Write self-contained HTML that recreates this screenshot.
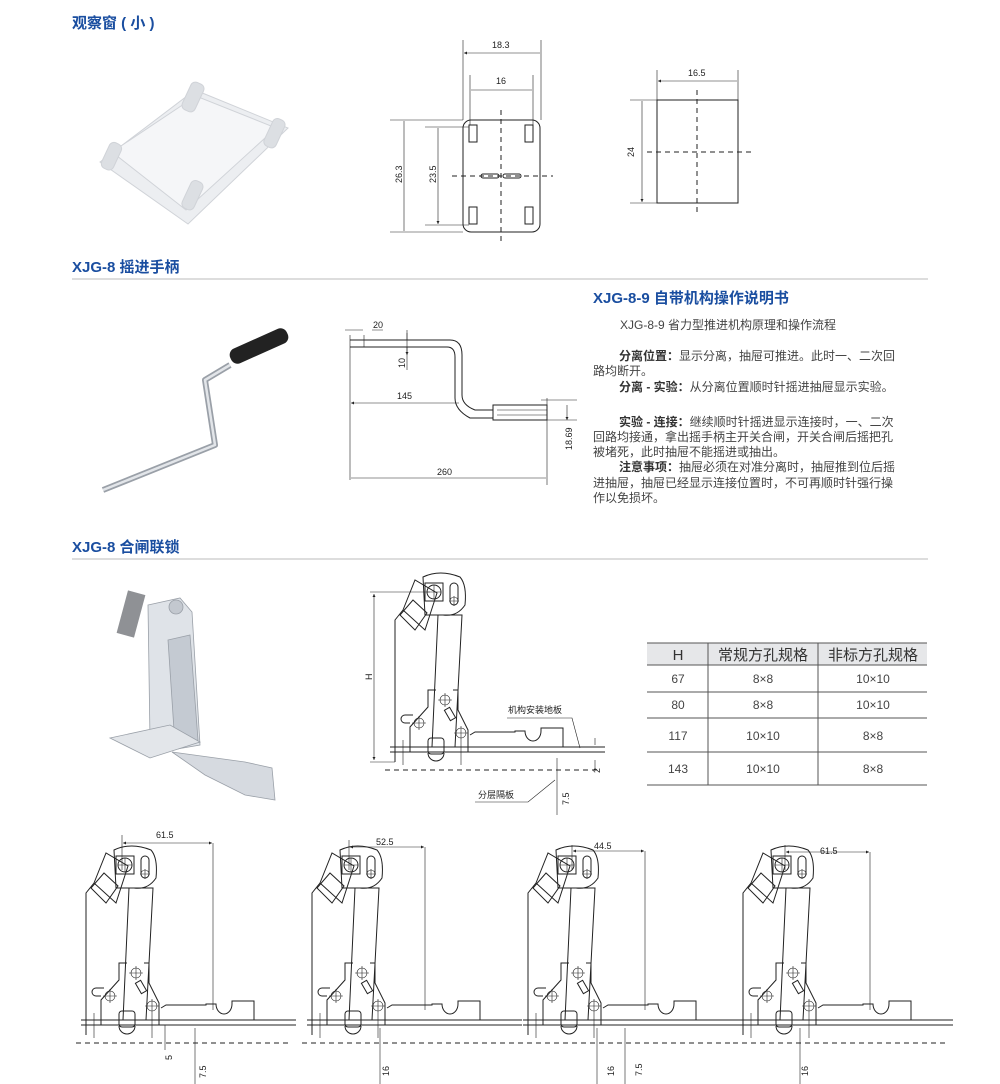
<!DOCTYPE html>
<html><head><meta charset="utf-8"><style>
body{margin:0;background:#fff;}
svg{display:block;font-family:"Liberation Sans","Noto Sans CJK SC",sans-serif;}
.h{font-size:15px;font-weight:bold;fill:#1a4ea0;}
.d{font-size:9px;fill:#222;}
.t{font-size:12px;fill:#444;}
.b{font-weight:bold;fill:#333;}
.ln{stroke:#222;stroke-width:1;fill:none;}
.th{stroke:#222;stroke-width:.6;fill:none;}
.da{stroke:#222;stroke-width:1;stroke-dasharray:5 4;fill:none;}
</style></head><body>
<svg width="1000" height="1084" viewBox="0 0 1000 1084">
<defs>
<marker id="a" viewBox="0 0 6 6" refX="6" refY="3" markerWidth="5" markerHeight="5" orient="auto-start-reverse"><path d="M0,0L6,3L0,6z" fill="#222"/></marker>
<g id="mech">
 <path class="ln" d="M0,187V45L8,35"/>
 <path class="ln" d="M8,35L20,5L42,18L30,55Z" fill="#fff"/>
 <path class="ln" d="M5,40L18,25L32,38L20,55Z" fill="#fff"/>
 <path class="ln" d="M28,2Q45,-6 65,2Q72,10 70,30Q62,42 48,40L30,40Z" fill="#fff"/>
 <rect class="ln" x="30" y="8" width="18" height="18"/>
 <circle class="ln" cx="39" cy="17" r="7"/><path class="th" d="M32,17H46M39,10V24"/>
 <rect class="ln" x="55" y="8" width="8" height="22" rx="4"/>
 <circle class="th" cx="59" cy="26" r="4"/><path class="th" d="M54,26H64M59,21V31"/>
 <path class="ln" d="M43,40L67,40L60,172L37,172Z" fill="#fff"/>
 <path class="ln" d="M15,177V152L33,132V115H41M58,115H63V135L73,155V177"/>
 <path class="ln" d="M10,140H18M10,140a4,4 0 0 0 0,8H15"/>
 <circle class="th" cx="24" cy="148" r="5"/><path class="th" d="M17,148H31M24,141V155"/>
 <circle class="th" cx="50" cy="125" r="5"/><path class="th" d="M43,125H57M50,118V132"/>
 <circle class="th" cx="66" cy="158" r="5"/><path class="th" d="M59,158H73M66,151V165"/>
 <rect class="ln" x="52" y="133" width="6" height="12" transform="rotate(-30 55 139)"/>
 <rect class="ln" x="33" y="163" width="16" height="16" rx="3"/>
 <path class="ln" d="M33,178a8,8 0 0 0 16,0"/>
 <path class="ln" d="M75,160L80,157H120V156H130a8,10 0 0 0 16,0V153H168V172"/>
 <path class="ln" d="M-5,172H210M-5,177H210"/>
 <path class="th" d="M8,165V190M66,165V190"/>
 <path class="da" d="M-10,195H205" stroke-dasharray="16 10"/>
</g>
</defs>

<text class="h" x="72" y="28">观察窗 ( 小 )</text>
<text class="h" x="72" y="272">XJG-8 摇进手柄</text>
<line x1="72" y1="279" x2="928" y2="279" stroke="#bbb"/>
<text class="h" x="72" y="552">XJG-8 合闸联锁</text>
<line x1="72" y1="559" x2="928" y2="559" stroke="#bbb"/>

<!-- window photo -->
<g stroke="#d0d3d8" fill="#eef0f3">
 <path d="M100,162L195,90L288,128L188,224Z" fill="#eceef1"/>
 <path d="M112,152L196,96L276,128L186,210Z" fill="#f5f6f8"/>
 <rect x="186" y="82" width="14" height="30" rx="5" transform="rotate(25 193 97)" fill="#dcdfe3"/>
 <rect x="268" y="118" width="13" height="30" rx="5" transform="rotate(25 274 133)" fill="#dcdfe3"/>
 <rect x="105" y="142" width="13" height="28" rx="5" transform="rotate(25 111 156)" fill="#dcdfe3"/>
 <rect x="186" y="180" width="13" height="30" rx="5" transform="rotate(25 192 195)" fill="#dcdfe3"/>
</g>

<!-- window drawing -->
<rect class="ln" x="463" y="120" width="77" height="112" rx="8"/>
<g class="ln"><rect x="469" y="125" width="8" height="17"/><rect x="525" y="125" width="8" height="17"/><rect x="469" y="207" width="8" height="17"/><rect x="525" y="207" width="8" height="17"/></g>
<path class="da" d="M501,110V242M452,176H553"/>
<rect class="ln" x="481" y="174" width="18" height="4" rx="2"/><rect class="ln" x="503" y="174" width="18" height="4" rx="2"/>
<path class="th" d="M463,40V120M541,40V120M470,75V125M533,75V125M390,120H463M425,127H469M390,232H463M425,225H469"/>
<path class="th" d="M464,53H540M471,90H532M404,121V231M438,128V224" marker-start="url(#a)" marker-end="url(#a)"/>
<text class="d" x="492" y="48">18.3</text><text class="d" x="496" y="84">16</text>
<text class="d" transform="translate(402,183) rotate(-90)">26.3</text>
<text class="d" transform="translate(436,183) rotate(-90)">23.5</text>
<rect class="ln" x="657" y="100" width="81" height="103"/>
<path class="da" d="M697,90V213M647,152H752"/>
<path class="th" d="M657,70V100M738,70V100M630,100H657M630,203H657"/>
<path class="th" d="M658,81H737M642,101V202" marker-start="url(#a)" marker-end="url(#a)"/>
<text class="d" x="688" y="76">16.5</text>
<text class="d" transform="translate(634,157) rotate(-90)">24</text>

<!-- crank photo -->
<path d="M103,490L215,445L205,380L230,365" fill="none" stroke="#9aa0a8" stroke-width="6" stroke-linejoin="round"/>
<path d="M103,490L215,445L205,380L230,365" fill="none" stroke="#e2e5e9" stroke-width="2.5" stroke-linejoin="round"/>
<rect x="228" y="338" width="62" height="16" rx="7" fill="#222" transform="rotate(-24 259 346)"/>

<!-- crank drawing -->
<path class="ln" d="M350,340H450Q462,340 462,355V395Q462,405 475,410H493M350,347H447Q455,347 455,357V398Q455,410 470,418H493"/>
<rect class="ln" x="493" y="405" width="54" height="15"/>
<path class="th" d="M497,410H547M497,415H547"/>
<path class="th" d="M350,335V480M364,335V347M547,398V485M407,330V370M541,400H577M541,420H577"/>
<path class="th" d="M345,330H363M372,330H383" />
<path class="th" d="M351,403H459M351,478H546M567,405V420" marker-start="url(#a)" marker-end="url(#a)"/>
<path class="th" d="M407,333V340M407,347V355" marker-end="url(#a)"/>
<text class="d" x="373" y="328">20</text>
<text class="d" transform="translate(405,368) rotate(-90)">10</text>
<text class="d" x="397" y="399">145</text><text class="d" x="437" y="475">260</text>
<text class="d" transform="translate(572,450) rotate(-90)">18.69</text>

<text class="h" x="593" y="303">XJG-8-9 自带机构操作说明书</text>
<g class="t">
<text x="620" y="329">XJG-8-9 省力型推进机构原理和操作流程</text>
<text x="619" y="360"><tspan class="b">分离位置：</tspan>显示分离，抽屉可推进。此时一、二次回</text>
<text x="593" y="375">路均断开。</text>
<text x="619" y="391"><tspan class="b">分离 - 实验：</tspan>从分离位置顺时针摇进抽屉显示实验。</text>
<text x="619" y="426"><tspan class="b">实验 - 连接：</tspan>继续顺时针摇进显示连接时，一、二次</text>
<text x="593" y="441">回路均接通，拿出摇手柄主开关合闸，开关合闸后摇把孔</text>
<text x="593" y="456">被堵死，此时抽屉不能摇进或抽出。</text>
<text x="619" y="471"><tspan class="b">注意事项：</tspan>抽屉必须在对准分离时，抽屉推到位后摇</text>
<text x="593" y="487">进抽屉，抽屉已经显示连接位置时，不可再顺时针强行操</text>
<text x="593" y="502">作以免损坏。</text>
</g>

<!-- mech photo -->
<g stroke="#9aa0a8" stroke-width=".8">
 <path d="M148,605L180,598L192,612L200,745L160,752L150,740Z" fill="#dfe3e8"/>
 <path d="M168,640L190,635L198,740L175,745Z" fill="#c4cad2"/>
 <path d="M110,738L170,725L200,742L150,758Z" fill="#e3e6ea"/>
 <path d="M172,752L245,762L272,768L275,800L245,795L205,775Z" fill="#d6dae0"/>
 <rect x="122" y="592" width="18" height="44" fill="#8f9195" transform="rotate(15 131 614)" stroke="none"/>
 <circle cx="176" cy="607" r="7" fill="#c3c8cf"/>
</g>

<use href="#mech" x="395" y="575"/>
<path class="th" d="M370,592H430M370,762H395"/>
<path class="th" d="M374,594V760" marker-start="url(#a)" marker-end="url(#a)"/>
<text class="d" transform="translate(372,680) rotate(-90)">H</text>
<text class="d" x="508" y="713">机构安装地板</text>
<path class="th" d="M507,718H572L580,748"/>
<path class="th" d="M557,758V815M585,747H600M585,752H600M595,738V745M595,760V770"/>
<text class="d" transform="translate(600,773) rotate(-90)">2</text>
<text class="d" transform="translate(569,805) rotate(-90)">7.5</text>
<text class="d" x="478" y="798">分层隔板</text>
<path class="th" d="M475,802H528L555,780"/>

<rect x="647" y="643" width="280" height="22" fill="#e6e7e9"/>
<g stroke="#555" stroke-width="1">
<line x1="647" y1="643" x2="927" y2="643"/><line x1="647" y1="665" x2="927" y2="665"/>
<line x1="647" y1="692" x2="927" y2="692"/><line x1="647" y1="718" x2="927" y2="718"/>
<line x1="647" y1="752" x2="927" y2="752"/><line x1="647" y1="785" x2="927" y2="785"/>
<line x1="708" y1="643" x2="708" y2="785"/><line x1="818" y1="643" x2="818" y2="785"/>
</g>
<g font-size="15" fill="#333" text-anchor="middle"><text x="678" y="660">H</text><text x="763" y="660">常规方孔规格</text><text x="873" y="660">非标方孔规格</text></g>
<g font-size="12" fill="#444" text-anchor="middle">
<text x="678" y="683">67</text><text x="763" y="683">8×8</text><text x="873" y="683">10×10</text>
<text x="678" y="709">80</text><text x="763" y="709">8×8</text><text x="873" y="709">10×10</text>
<text x="678" y="740">117</text><text x="763" y="740">10×10</text><text x="873" y="740">8×8</text>
<text x="678" y="773">143</text><text x="763" y="773">10×10</text><text x="873" y="773">8×8</text>
</g>

<use href="#mech" x="86" y="848"/>
<path class="th" d="M122,835V870M213,843V1010"/>
<path class="th" d="M123,843H212" marker-start="url(#a)" marker-end="url(#a)"/>
<text class="d" x="156" y="838">61.5</text>
<path class="th" d="M165,1025V1050M195,1028V1084"/>
<text class="d" transform="translate(172,1060) rotate(-90)">5</text>
<text class="d" transform="translate(206,1078) rotate(-90)">7.5</text>

<use href="#mech" x="312" y="848"/>
<path class="th" d="M349,840V870M425,847V1010"/>
<path class="th" d="M350,847H424" marker-start="url(#a)" marker-end="url(#a)"/>
<text class="d" x="376" y="845">52.5</text>
<path class="th" d="M380,1028V1084"/>
<text class="d" transform="translate(389,1076) rotate(-90)">16</text>

<use href="#mech" x="528" y="848"/>
<path class="th" d="M572,845V870M645,851V1010"/>
<path class="th" d="M573,851H644" marker-start="url(#a)" marker-end="url(#a)"/>
<text class="d" x="594" y="849">44.5</text>
<path class="th" d="M597,1028V1084M625,1028V1084"/>
<text class="d" transform="translate(614,1076) rotate(-90)">16</text>
<text class="d" transform="translate(642,1076) rotate(-90)">7.5</text>

<use href="#mech" x="743" y="848"/>
<path class="th" d="M785,845V870M870,852V1010"/>
<path class="th" d="M786,852H869" marker-start="url(#a)" marker-end="url(#a)"/>
<text class="d" x="820" y="854">61.5</text>
<path class="th" d="M800,1028V1084"/>
<text class="d" transform="translate(808,1076) rotate(-90)">16</text>
</svg>
</body></html>
